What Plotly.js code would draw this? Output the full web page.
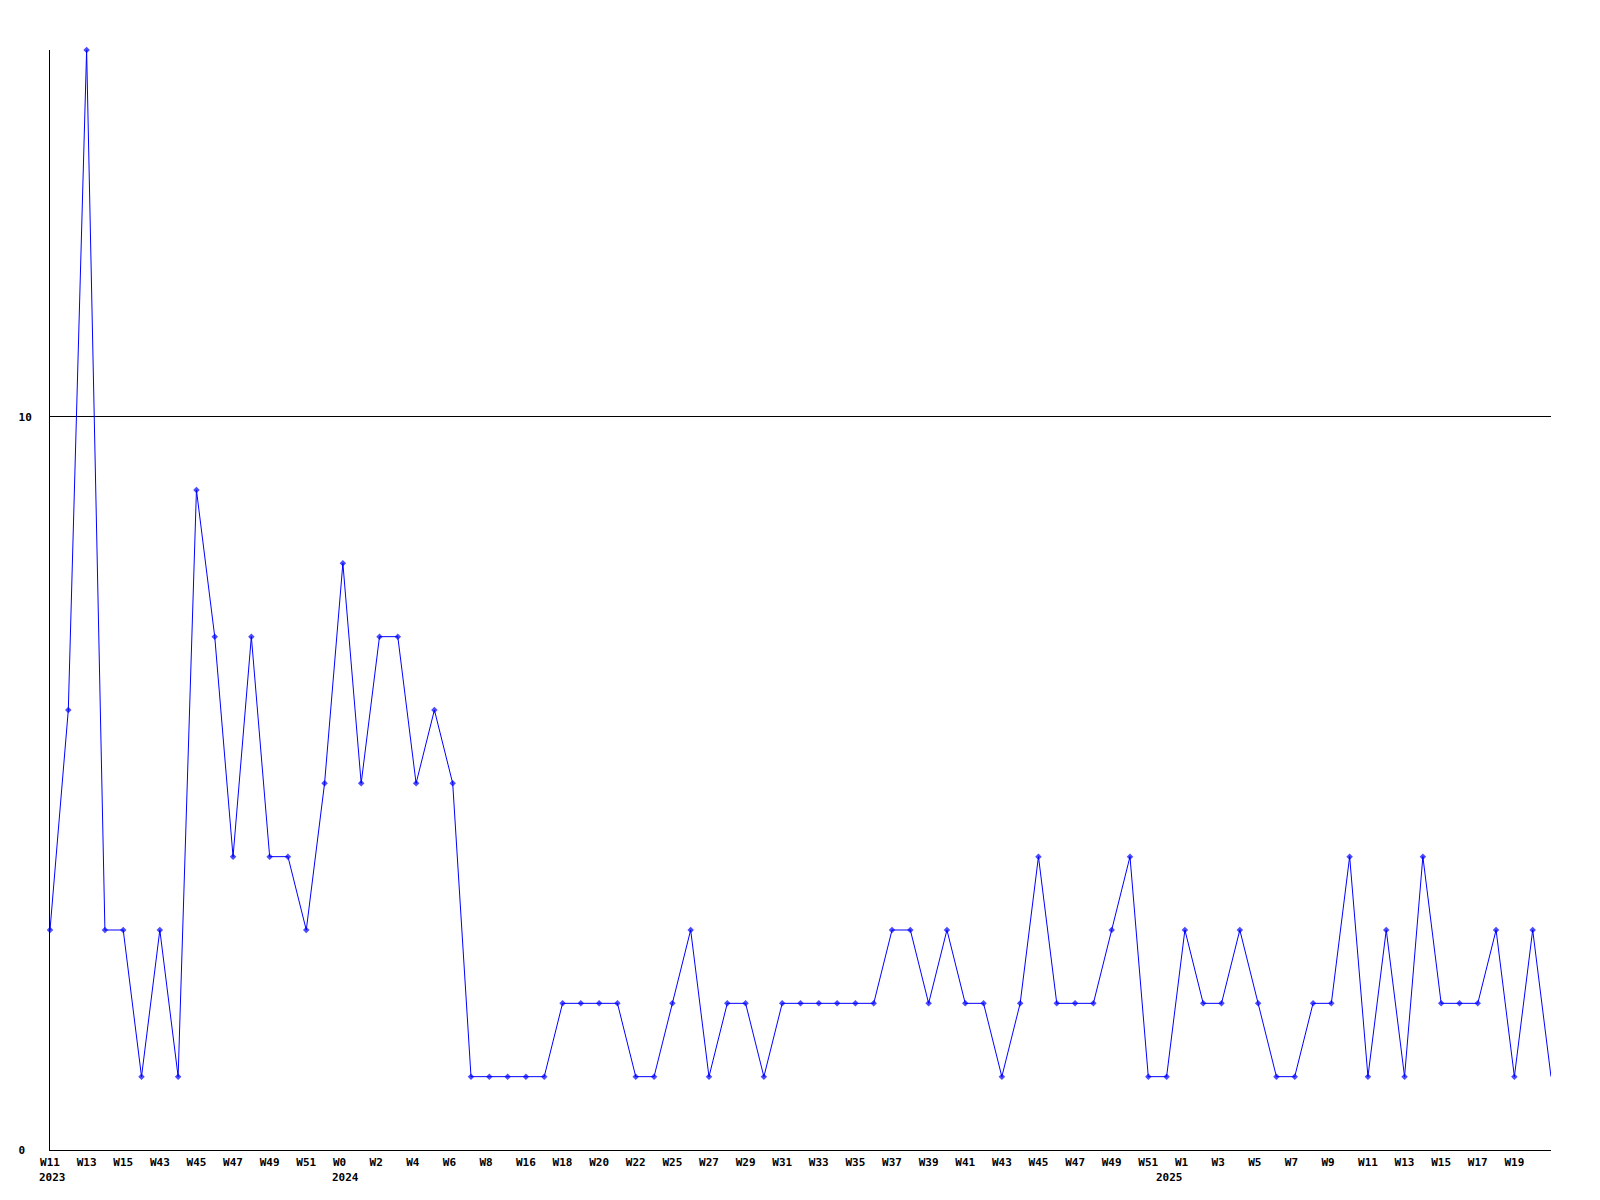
<!DOCTYPE html>
<html>
<head>
<meta charset="utf-8">
<script src="https://cdn.plot.ly/plotly-3.0.1.min.js"></script>
<style>
  html, body { margin: 0; padding: 0; background: #ffffff; }
  #chart { width: 1600px; height: 1200px; }
</style>
</head>
<body>
<div id="chart"></div>
<script>
// Weekly counts (one value per plotted week, left to right)
const values = [
  3, 6, 15, 3, 3, 1, 3, 1, 9, 7,
  4, 7, 4, 4, 3, 5, 8, 5, 7, 7,
  5, 6, 5, 1, 1, 1, 1, 1, 2, 2,
  2, 2, 1, 1, 2, 3, 1, 2, 2, 1,
  2, 2, 2, 2, 2, 2, 3, 3, 2, 3,
  2, 2, 1, 2, 4, 2, 2, 2, 3, 4,
  1, 1, 3, 2, 2, 3, 2, 1, 1, 2,
  2, 4, 1, 3, 1, 4, 2, 2, 2, 3,
  1, 3, 1
];

// Week labels shown under every second point
const weekLabels = [
  "W11", "W13", "W15", "W43", "W45", "W47", "W49", "W51", "W0", "W2",
  "W4", "W6", "W8", "W16", "W18", "W20", "W22", "W25", "W27", "W29",
  "W31", "W33", "W35", "W37", "W39", "W41", "W43", "W45", "W47", "W49",
  "W51", "W1", "W3", "W5", "W7", "W9", "W11", "W13", "W15", "W17", "W19"
];

// Year labels and the point index where each year starts
const yearLabels = ["2023", "2024", "2025"];
const yearStartIndex = [0, 16, 61];

const yTickVals = [0, 10];
const yTickText = ["0", "10"];

const FONT = "DejaVu Sans Mono, Liberation Mono, monospace";

const xs = values.map((_, i) => i);
const tickVals = weekLabels.map((_, i) => i * 2);
const pad = s => s + "\u00A0".repeat(Math.max(0, 3 - s.length));
const tickText = weekLabels.map(pad);
const markerSizes = values.map((_, i) => (i === values.length - 1 ? 0 : 5));

const trace = {
  type: "scatter",
  mode: "lines+markers",
  x: xs,
  y: values,
  line: { color: "#0000ff", width: 1 },
  marker: { color: "#0000ff", symbol: "diamond", size: markerSizes, line: { width: 0 } },
  hoverinfo: "x+y",
  cliponaxis: false
};

const annotations = yearLabels.map((t, k) => ({
  text: t,
  x: yearStartIndex[k],
  xref: "x",
  y: 0,
  yref: "paper",
  yshift: -27,
  xanchor: "left",
  yanchor: "middle",
  xshift: -13,
  showarrow: false,
  font: { family: FONT, size: 11, color: "#000000", weight: "bold" }
}));

const layout = {
  width: 1600,
  height: 1200,
  margin: { l: 50, r: 49, t: 50, b: 50, pad: 0 },
  paper_bgcolor: "#ffffff",
  plot_bgcolor: "#ffffff",
  showlegend: false,
  xaxis: {
    range: [0, values.length - 1],
    tickmode: "array",
    tickvals: tickVals,
    ticktext: tickText,
    ticks: "",
    showgrid: false,
    zeroline: false,
    showline: true,
    linecolor: "#000000",
    linewidth: 1,
    tickangle: 0,
    ticklabelstandoff: 2,
    tickfont: { family: FONT, size: 11, color: "#000000", weight: "bold" }
  },
  yaxis: {
    range: [0, 15],
    tickmode: "array",
    tickvals: yTickVals,
    ticktext: yTickText.map(s => s.length < 2 ? s + "\u00A0" : s),
    ticks: "",
    showgrid: true,
    gridcolor: "#000000",
    gridwidth: 1,
    zeroline: false,
    showline: true,
    linecolor: "#000000",
    linewidth: 1,
    ticklabelstandoff: 15,
    tickfont: { family: FONT, size: 11, color: "#000000", weight: "bold" }
  },
  annotations: annotations
};

Plotly.newPlot("chart", [trace], layout, { displayModeBar: false, staticPlot: true });
</script>
</body>
</html>
